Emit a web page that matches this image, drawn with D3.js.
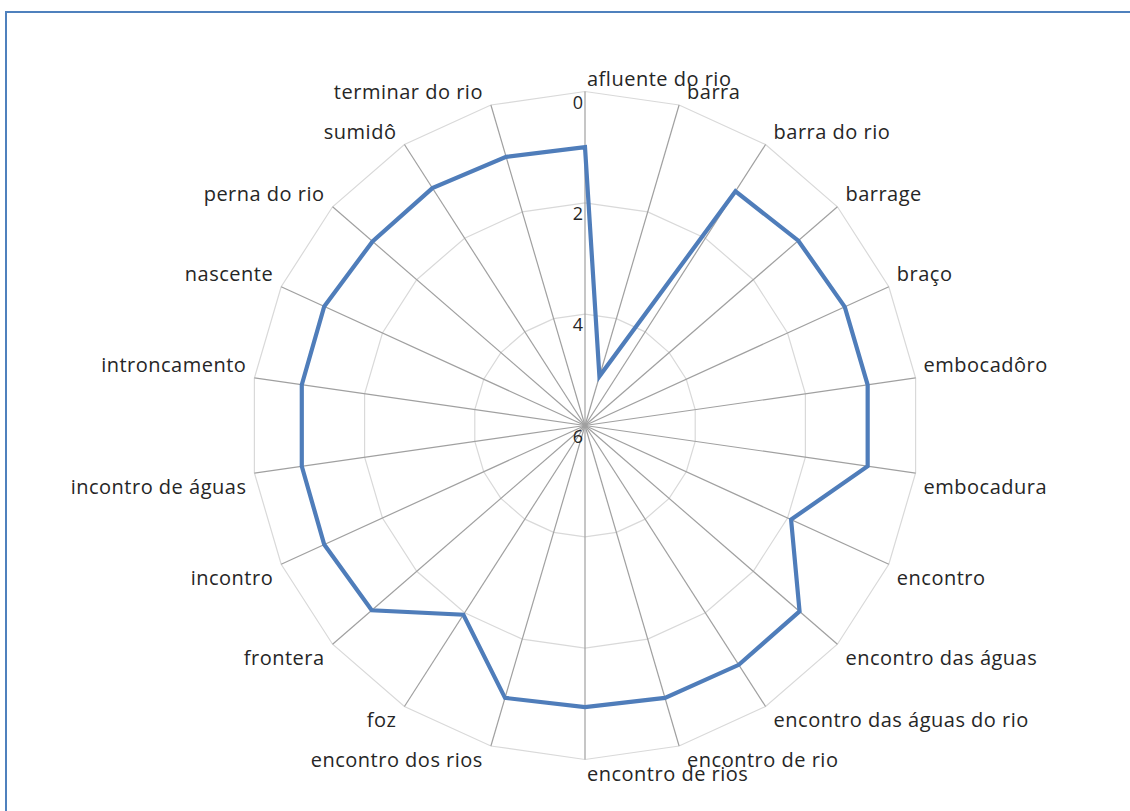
<!DOCTYPE html>
<html><head><meta charset="utf-8">
<script src="https://cdn.jsdelivr.net/npm/d3@7"></script>
<style>body{margin:0;background:#fff} svg{display:block}</style>
</head><body><svg id="c" width="1130" height="811"></svg>
<script>
const categories = ["afluente do rio","barra","barra do rio","barrage","braço","embocadôro","embocadura","encontro","encontro das águas","encontro das águas do rio","encontro de rio","encontro de rios","encontro dos rios","foz","frontera","incontro","incontro de águas","introncamento","nascente","perna do rio","sumidô","terminar do rio"];
const values = [1.0,5.08,1.0,0.93,0.87,0.87,0.87,1.93,0.9,0.89,0.9,0.94,0.9,1.96,0.93,0.85,0.86,0.86,0.85,0.95,0.93,0.97];
const tickValues = [0,2,4,6];
const gridValues = [0,2,4];

const svg = d3.select("#c");
const cx = 585, cy = 425.5, R = 334;
const FONT = "Open Sans, sans-serif";

svg.append("rect").attr("x",6).attr("y",12).attr("width",1200).attr("height",900)
  .attr("fill","#fff").attr("stroke","#4f81bd").attr("stroke-width",2);

const n = categories.length;
const ang = d3.scaleLinear().domain([0,n]).range([0,2*Math.PI]);
const r = d3.scaleLinear().domain([0,6]).range([R,0]);

const g = svg.append("g").attr("transform",`translate(${cx},${cy})`);

// rings
const ringLine = d3.lineRadial().angle((d,i)=>ang(i)).radius(d=>r(d)).curve(d3.curveLinearClosed);
gridValues.forEach(v=>{
  g.append("path").attr("d", ringLine(categories.map(()=>v)))
   .attr("fill","none").attr("stroke","#d9d9d9").attr("stroke-width",1.2);
});
// spokes
categories.forEach((c,i)=>{
  const a = ang(i);
  g.append("line").attr("x1",0).attr("y1",0)
   .attr("x2",Math.sin(a)*r(0)).attr("y2",-Math.cos(a)*r(0))
   .attr("stroke","#a0a0a0").attr("stroke-width",1.2);
});

// data polygon
g.append("path").attr("d", ringLine(values))
  .attr("fill","none").attr("stroke","#4f7dba").attr("stroke-width",4.2).attr("stroke-linejoin","miter");

// tick labels
tickValues.forEach(v=>{
  g.append("text").attr("x",-2).attr("y",-r(v)+11).attr("dy","0.35em")
   .attr("text-anchor","end").attr("font-family",FONT).attr("font-size",18)
   .attr("fill","#262626").text(v);
});

// category labels
categories.forEach((c,i)=>{
  const a = ang(i);
  const s = Math.sin(a), co = Math.cos(a);
  const px = s*r(0), py = -co*r(0);
  let anchor, dx;
  if (Math.abs(s) < 0.01) { anchor = "start"; dx = 2; }
  else if (s > 0) { anchor = "start"; dx = 8; }
  else { anchor = "end"; dx = -8; }
  const dy = co > 0 ? -13 : 14;
  g.append("text").attr("x",px+dx).attr("y",py+dy).attr("dy","0.35em")
   .attr("text-anchor",anchor).attr("font-family",FONT).attr("font-size",20)
   .attr("letter-spacing",0.5)
   .attr("fill","#262626").text(c);
});
</script>
</body></html>
